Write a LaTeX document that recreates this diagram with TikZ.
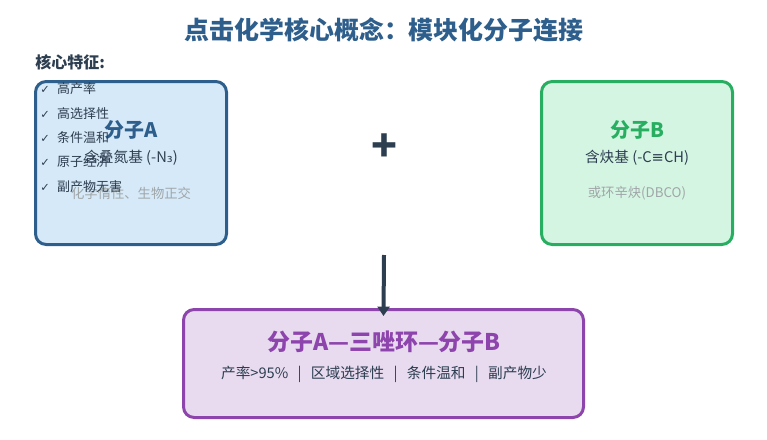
\documentclass[tikz,border=0pt]{standalone}
\usepackage{fontspec}
\setmainfont{Noto Sans CJK SC}
\newfontfamily\symfont{DejaVu Sans}
\usetikzlibrary{arrows.meta,calc,positioning}
\definecolor{titleblue}{HTML}{2E5E8B}
\definecolor{darktext}{HTML}{2C3E50}
\definecolor{greytext}{HTML}{A0A6A8}
\definecolor{fillA}{HTML}{D6E9F8}
\definecolor{greenB}{HTML}{27AE60}
\definecolor{fillB}{HTML}{D5F5E3}
\definecolor{purpleC}{HTML}{8E44AD}
\definecolor{fillC}{HTML}{E8DAEF}

\begin{document}
\begin{tikzpicture}[x=0.75pt,y=-0.75pt,>={Triangle[length=7pt,width=9pt]},
  molbox/.style={draw,line width=2.25pt,rounded corners=8pt,inner sep=0pt,
    minimum width=143.25pt,minimum height=122.25pt},
  boxtitle/.style={font=\fontsize{15}{18}\selectfont\bfseries,inner sep=0pt},
  boxdesc/.style={font=\fontsize{11}{13}\selectfont,text=darktext,inner sep=0pt},
  boxnote/.style={font=\fontsize{10}{12}\selectfont,text=greytext,inner sep=0pt},
  featitem/.style={font=\fontsize{9.75}{12}\selectfont,text=darktext,anchor=west,inner sep=0pt}]
  \useasboundingbox (0,0) rectangle (767,439);
  \node[font=\fontsize{18.7}{22}\selectfont\bfseries,text=titleblue,inner sep=0pt]
    (title) at (384,30) {点击化学核心概念：模块化分子连接};
  \node[font=\fontsize{12}{14}\selectfont\bfseries,text=darktext,anchor=west,inner sep=0pt]
    (featlabel) at (35,62) {核心特征:};
  % molecule A
  \node[molbox,draw=titleblue,fill=fillA] (molA) at (131,163) {};
  \node[boxtitle,text=titleblue] (molAname) at (131,130) {分子A};
  \node[boxdesc] (molAgroup) at (131,158) {含叠氮基 (-N{\symfont ₃})};
  \node[boxnote] (molAnote) at (131,193) {化学惰性、生物正交};
  % feature list on top of box A
  \foreach \t [count=\i] in {高产率,高选择性,条件温和,原子经济,副产物无害}
    \node[featitem] (feat\i) at (40,{89+24.3*(\i-1)})
      {{\symfont\fontsize{8.5}{9}\selectfont ✓}\hspace{5.5pt}\t};
  % molecule B
  \node[molbox,draw=greenB,fill=fillB] (molB) at (637,163) {};
  \node[boxtitle,text=greenB] (molBname) at (637,130) {分子B};
  \node[boxdesc] (molBgroup) at (637,158) {含炔基 (-C{\symfont ≡}CH)};
  \node[boxnote] (molBnote) at (637,193) {或环辛炔(DBCO)};
  \node[font=\fontsize{32}{32}\selectfont\bfseries,text=darktext,inner sep=0pt] (plus) at (384,148) {+};
  % product
  \node[draw=purpleC,fill=fillC,line width=2.25pt,rounded corners=8pt,inner sep=0pt,
    minimum width=300pt,minimum height=81pt] (product) at (383.5,363.5) {};
  \node[font=\fontsize{17.2}{20}\selectfont\bfseries,text=purpleC,inner sep=0pt]
    (prodname) at (384,342) {分子A—三唑环—分子B};
  \node[boxdesc] (proddesc) at (384,374)
    {产率>95\%\hspace{7pt}|\hspace{7pt}区域选择性\hspace{7pt}|\hspace{7pt}条件温和\hspace{7pt}|\hspace{7pt}副产物少};
  \coordinate (arrtop) at (384,255);
  \draw[->,line width=3pt,darktext] (arrtop) -- ($(product.north)+(0,8)$);
\end{tikzpicture}
\end{document}
